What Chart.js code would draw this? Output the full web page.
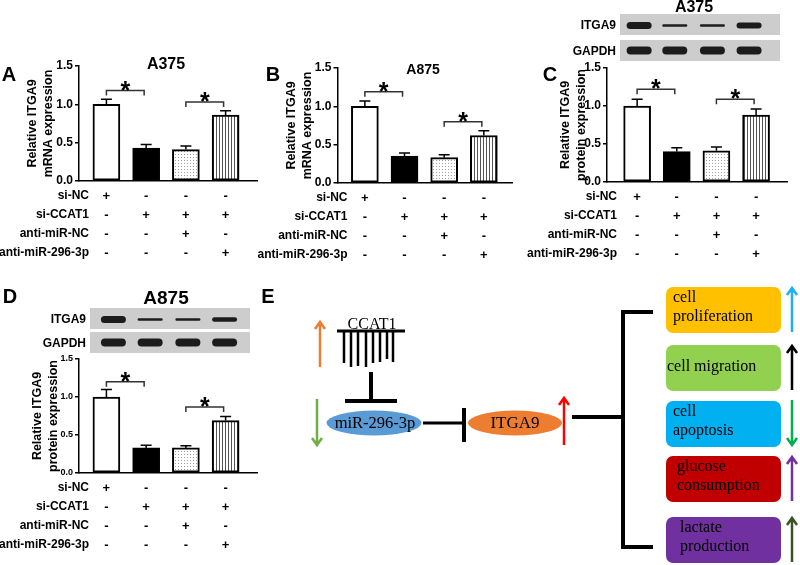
<!DOCTYPE html>
<html>
<head>
<meta charset="utf-8">
<script src="https://cdn.jsdelivr.net/npm/chart.js@4.4.0/dist/chart.umd.min.js"></script>
<style>
  body { margin: 0; background: #fff; }
  #wrap { position: relative; width: 800px; height: 565px; background: #fff; overflow: hidden; }
  #wrap canvas { position: absolute; left: 0; top: 0; }
</style>
</head>
<body>
<div id="wrap">
  <canvas id="cE" width="800" height="565"></canvas>
  <canvas id="cA" width="800" height="565"></canvas>
  <canvas id="cB" width="800" height="565"></canvas>
  <canvas id="cC" width="800" height="565"></canvas>
  <canvas id="cD" width="800" height="565"></canvas>
</div>
<script>
// ---- data ----
const conditions = ['si-NC', 'si-CCAT1', 'anti-miR-NC', 'anti-miR-296-3p'];
const signs = [
  ['+', '-', '-', '-'],
  ['-', '+', '+', '+'],
  ['-', '-', '+', '-'],
  ['-', '-', '-', '+']
];
const groups = [0, 1, 2, 3];
const yTicks = [0, 0.5, 1.0, 1.5];

const mrnaA375 = [1.00, 0.43, 0.41, 0.86];
const mrnaA375Err = [0.065, 0.045, 0.045, 0.055];
const mrnaA875 = [1.00, 0.35, 0.33, 0.62];
const mrnaA875Err = [0.07, 0.04, 0.04, 0.06];
const protA375 = [1.00, 0.40, 0.41, 0.88];
const protA375Err = [0.09, 0.05, 0.05, 0.08];
const protA875 = [1.00, 0.33, 0.33, 0.69];
const protA875Err = [0.10, 0.035, 0.03, 0.055];

// significance brackets: bar pairs and bracket heights
const sigPairs = [[0, 1], [2, 3]];
const sigA = [1.18, 1.03];
const sigB = [1.19, 0.80];
const sigC = [1.22, 1.09];
const sigD = [1.20, 0.87];

const gapdhLevel = [1, 1, 1, 1];

const SANS = '"Liberation Sans", Arial, sans-serif';
const SERIF = '"Liberation Serif", "Times New Roman", serif';
Chart.defaults.font.family = SANS;

// ---- bar fills ----
function dotPattern() {
  const c = document.createElement('canvas');
  c.width = 3; c.height = 3;
  const g = c.getContext('2d');
  g.fillStyle = '#fff'; g.fillRect(0, 0, 3, 3);
  g.fillStyle = '#a0a0a0'; g.fillRect(1, 1, 1, 1);
  return g.createPattern(c, 'repeat');
}
function stripePattern() {
  const c = document.createElement('canvas');
  c.width = 3; c.height = 4;
  const g = c.getContext('2d');
  g.fillStyle = '#fff'; g.fillRect(0, 0, 3, 4);
  g.fillStyle = '#555'; g.fillRect(0, 0, 1, 4);
  return g.createPattern(c, 'repeat');
}
const fills = ['#ffffff', '#000000', dotPattern(), stripePattern()];

// draws error bars, brackets, condition table, titles and blots
const panelPlugin = {
  id: 'panel',
  afterDraw(chart, args, o) {
    const { ctx, chartArea: a, scales: { x, y } } = chart;
    ctx.save();
    ctx.strokeStyle = '#000';
    ctx.fillStyle = '#000';

    // error bars (upper half only)
    ctx.lineWidth = 1.5;
    o.values.forEach((v, i) => {
      const px = x.getPixelForValue(groups[i]);
      const top = y.getPixelForValue(v);
      const e = y.getPixelForValue(v + o.errors[i]);
      ctx.beginPath();
      ctx.moveTo(px, top); ctx.lineTo(px, e);
      ctx.moveTo(px - 5.5, e); ctx.lineTo(px + 5.5, e);
      ctx.stroke();
    });

    // significance brackets
    o.sig.forEach((h, k) => {
      const x1 = x.getPixelForValue(sigPairs[k][0]);
      const x2 = x.getPixelForValue(sigPairs[k][1]) - 2;
      const py = y.getPixelForValue(h);
      ctx.strokeStyle = '#333';
      ctx.lineWidth = 1.5;
      ctx.beginPath();
      ctx.moveTo(x1, py + 5); ctx.lineTo(x1, py); ctx.lineTo(x2, py); ctx.lineTo(x2, py + 5);
      ctx.stroke();
      ctx.font = 'bold 25px ' + SANS;
      ctx.textAlign = 'center';
      ctx.textBaseline = 'alphabetic';
      ctx.fillText('*', (x1 + x2) / 2, py + 8);
    });

    // condition table
    ctx.textBaseline = 'middle';
    conditions.forEach((name, r) => {
      const ry = a.bottom + 15 + 19 * r;
      ctx.font = 'bold 12px ' + SANS;
      ctx.textAlign = 'right';
      ctx.fillText(name, a.left + 10, ry);
      ctx.textAlign = 'center';
      ctx.font = 'bold 13px ' + SANS;
      signs[r].forEach((s, i) => ctx.fillText(s, x.getPixelForValue(groups[i]), ry));
    });

    // panel title and letter
    ctx.textAlign = 'center';
    ctx.font = `bold ${o.title.size}px ${SANS}`;
    ctx.fillText(o.title.text, o.title.x, o.title.y);
    ctx.font = 'bold 20px ' + SANS;
    ctx.fillText(o.letter.text, o.letter.x, o.letter.y);

    // western blot strips
    if (o.blot) {
      const b = o.blot;
      const rows = [
        { name: 'ITGA9', top: b.y1, levels: o.values },
        { name: 'GAPDH', top: b.y2, levels: gapdhLevel }
      ];
      rows.forEach((row, r) => {
        ctx.fillStyle = '#cdcdcd';
        ctx.fillRect(b.x, row.top, b.w, b.h);
        ctx.fillStyle = '#000';
        ctx.font = 'bold 12px ' + SANS;
        ctx.textAlign = 'right';
        ctx.fillText(row.name, b.labelX, row.top + b.h / 2 + 1);
        ctx.save();
        ctx.filter = 'blur(0.7px)';
        ctx.fillStyle = '#1c1c1c';
        row.levels.forEach((lv, i) => {
          const bh = r === 0 ? Math.max(2.5, 1.5 + 5.5 * (lv - 0.3) / 0.7) : 8;
          const cx = x.getPixelForValue(groups[i]) + b.shift[i];
          const cy = row.top + b.h / 2 + (r === 0 ? 1 : 0);
          ctx.beginPath();
          ctx.roundRect(cx - 12.5, cy - bh / 2, 25, bh, bh / 2);
          ctx.fill();
        });
        ctx.restore();
      });
    }
    ctx.restore();
  }
};

function makePanel(id, values, errors, sig, yTitle, p) {
  return new Chart(document.getElementById(id), {
    type: 'bar',
    data: {
      datasets: [{
        data: values.map((v, i) => ({ x: groups[i], y: v })),
        backgroundColor: fills,
        borderColor: '#000',
        borderWidth: 2,
        borderSkipped: false,
        barThickness: 27
      }]
    },
    options: {
      responsive: false,
      animation: false,
      events: [],
      layout: { padding: { left: p.x0, top: p.top, right: 800 - p.right, bottom: 565 - p.bottom } },
      plugins: {
        legend: { display: false },
        tooltip: { enabled: false },
        panel: { values, errors, sig, title: p.title, letter: p.letter, blot: p.blot }
      },
      scales: {
        x: {
          type: 'linear', min: p.xmin, max: p.xmax,
          offset: false, bounds: 'data',
          ticks: { display: false },
          grid: { display: false, offset: false },
          border: { color: '#000', width: 1.5, z: 1 },
          afterFit: s => { s.height = 0; }
        },
        y: {
          min: 0, max: 1.5,
          afterBuildTicks: s => { s.ticks = yTicks.map(v => ({ value: v })); },
          ticks: { color: '#000', padding: 2, font: { size: p.tickSize, weight: 'bold' }, callback: v => v.toFixed(1) },
          grid: { drawOnChartArea: false, tickLength: 4, color: '#000', lineWidth: 1.5 },
          border: { color: '#000', width: 1.5, z: 1 },
          title: {
            display: true, text: yTitle, color: '#000',
            font: { size: 12.5, weight: 'bold', lineHeight: '16px' },
            padding: { top: p.titlePad, bottom: 0 }
          },
          afterFit: s => { s.width = p.axisX - p.x0; }
        }
      }
    },
    plugins: [panelPlugin]
  });
}

makePanel('cA', mrnaA375, mrnaA375Err, sigA, ['Relative ITGA9', 'mRNA expression'], {
  x0: 0, axisX: 79, right: 257, top: 66, bottom: 181, xmin: -0.69, xmax: 3.79,
  titlePad: 25, tickSize: 12,
  title: { text: 'A375', x: 166, y: 65, size: 16 },
  letter: { text: 'A', x: 9, y: 75 }
});
makePanel('cB', mrnaA875, mrnaA875Err, sigB, ['Relative ITGA9', 'mRNA expression'], {
  x0: 265, axisX: 337.5, right: 512, top: 68, bottom: 183, xmin: -0.69, xmax: 3.71,
  titlePad: 19, tickSize: 12,
  title: { text: 'A875', x: 423, y: 70, size: 14 },
  letter: { text: 'B', x: 273, y: 75 }
});
makePanel('cC', protA375, protA375Err, sigC, ['Relative ITGA9', 'protein expression'], {
  x0: 530, axisX: 607, right: 787, top: 68, bottom: 182, xmin: -0.76, xmax: 3.78,
  titlePad: 28, tickSize: 12,
  title: { text: 'A375', x: 694, y: 8, size: 16 },
  letter: { text: 'C', x: 550, y: 75 },
  blot: { x: 620, w: 160, y1: 14, y2: 40, h: 21, labelX: 616, shift: [2, -2, -4, -7] }
});
makePanel('cD', protA875, protA875Err, sigD, ['Relative ITGA9', 'protein expression'], {
  x0: 0, axisX: 79, right: 257, top: 359, bottom: 473, xmin: -0.69, xmax: 3.79,
  titlePad: 30, tickSize: 9,
  title: { text: 'A875', x: 166, y: 299, size: 19 },
  letter: { text: 'D', x: 10, y: 297 },
  blot: { x: 90, w: 160, y1: 308, y2: 332, h: 21, labelX: 86, shift: [7, 4, 2, -1] }
});

// ---- panel E: pathway diagram ----
const effects = [
  { lines: ['cell', 'proliferation'], color: '#ffc000', tx: 673, up: true, arrow: '#1cb0f0' },
  { lines: ['cell migration'], color: '#92d050', tx: 667, up: true, arrow: '#000000' },
  { lines: ['cell', 'apoptosis'], color: '#00b0f0', tx: 673, up: false, arrow: '#00b050' },
  { lines: ['glucose', 'consumption'], color: '#c00000', tx: 677, up: true, arrow: '#7030a0' },
  { lines: ['lactate', 'production'], color: '#7030a0', tx: 680, up: true, arrow: '#375623' }
];

(function drawE() {
  const g = document.getElementById('cE').getContext('2d');
  g.lineCap = 'butt';

  function arrow(xp, tail, tip, color, w) {
    const dir = tip < tail ? 1 : -1;
    g.strokeStyle = color;
    g.lineWidth = w || 2.5;
    g.beginPath();
    g.moveTo(xp, tail); g.lineTo(xp, tip);
    g.moveTo(xp - 5, tip + dir * 7); g.lineTo(xp, tip); g.lineTo(xp + 5, tip + dir * 7);
    g.stroke();
  }
  function seg(x1, y1, x2, y2, w) {
    g.strokeStyle = '#000'; g.lineWidth = w;
    g.beginPath(); g.moveTo(x1, y1); g.lineTo(x2, y2); g.stroke();
  }

  g.fillStyle = '#000';
  g.font = 'bold 20px ' + SANS;
  g.textAlign = 'center'; g.textBaseline = 'middle';
  g.fillText('E', 268, 297);

  // CCAT1 comb
  g.font = '16px ' + SERIF;
  g.textBaseline = 'alphabetic';
  g.fillText('CCAT1', 372, 329);
  seg(337, 331, 405, 331, 3);
  const teethX = [344, 351, 358, 366, 373, 380, 387, 393];
  const teethY = [363, 367, 366, 367, 363, 362, 359, 362];
  teethX.forEach((tx, i) => seg(tx, 331, tx, teethY[i], 2.5));
  arrow(320, 367, 322, '#ed7d31');

  // CCAT1 -| miR-296-3p
  seg(371, 372, 371, 401, 4);
  seg(345, 401, 397, 401, 4);
  arrow(317, 399, 445, '#70ad47');

  g.fillStyle = '#5b9bd5';
  g.beginPath(); g.ellipse(374, 423, 47.5, 12.5, 0, 0, Math.PI * 2); g.fill();
  g.fillStyle = '#000';
  g.font = '16.5px ' + SERIF;
  g.textBaseline = 'middle';
  g.fillText('miR-296-3p', 375, 424);

  // miR-296-3p -| ITGA9
  seg(423, 423, 464, 423, 3);
  seg(464, 408, 464, 442, 4);
  g.fillStyle = '#ed7d31';
  g.beginPath(); g.ellipse(515, 423, 47, 12.5, 0, 0, Math.PI * 2); g.fill();
  g.fillStyle = '#000';
  g.font = '17px ' + SERIF;
  g.fillText('ITGA9', 515, 424);
  arrow(564, 445, 398, '#ff0000');

  // bracket to effects
  seg(572, 417, 623, 417, 4);
  seg(623, 310, 623, 549, 4);
  seg(621, 312, 653, 312, 4);
  seg(621, 547, 653, 547, 4);

  const boxTop = [287, 345, 401, 456, 517];
  effects.forEach((e, i) => {
    const t = boxTop[i];
    g.fillStyle = e.color;
    g.beginPath(); g.roundRect(666, t, 115, 46, 7); g.fill();
    g.fillStyle = '#000';
    g.font = '16px ' + SERIF;
    g.textAlign = 'left';
    g.textBaseline = 'middle';
    if (e.lines.length === 1) {
      g.fillText(e.lines[0], e.tx, t + 22);
    } else {
      g.fillText(e.lines[0], e.tx, t + 11);
      g.fillText(e.lines[1], e.tx, t + 30);
    }
    if (e.up) arrow(792, t + 45, t + 1, e.arrow);
    else arrow(792, t - 1, t + 44, e.arrow);
  });
})();
</script>
</body>
</html>
